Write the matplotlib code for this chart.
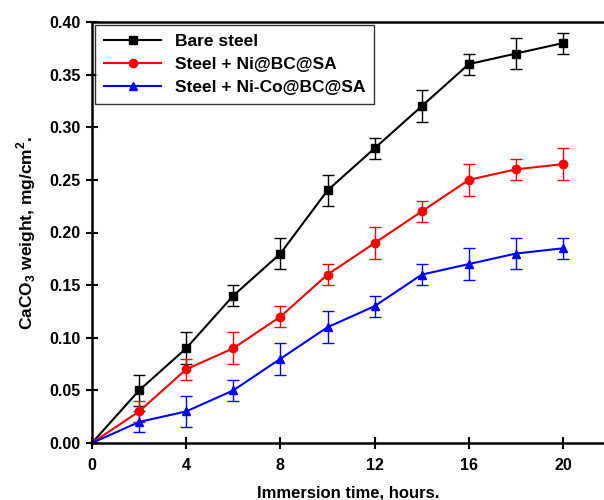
import matplotlib
matplotlib.use('Agg')
import matplotlib.pyplot as plt

plt.rcParams['font.family'] = ['Liberation Sans', 'DejaVu Sans']
plt.rcParams['font.weight'] = 'bold'
plt.rcParams['mathtext.fontset'] = 'custom'
plt.rcParams['mathtext.rm'] = 'Liberation Sans:bold'
plt.rcParams['mathtext.bf'] = 'Liberation Sans:bold'

hours = [0, 2, 4, 6, 8, 10, 12, 14, 16, 18, 20]
bare = [0, 0.05, 0.09, 0.14, 0.18, 0.24, 0.28, 0.32, 0.36, 0.37, 0.38]
bare_err = [0, 0.015, 0.015, 0.01, 0.015, 0.015, 0.01, 0.015, 0.01, 0.015, 0.01]
ni = [0, 0.03, 0.07, 0.09, 0.12, 0.16, 0.19, 0.22, 0.25, 0.26, 0.265]
ni_err = [0, 0.01, 0.01, 0.015, 0.01, 0.01, 0.015, 0.01, 0.015, 0.01, 0.015]
nico = [0, 0.02, 0.03, 0.05, 0.08, 0.11, 0.13, 0.16, 0.17, 0.18, 0.185]
nico_err = [0, 0.01, 0.015, 0.01, 0.015, 0.015, 0.01, 0.01, 0.015, 0.015, 0.01]
names = ['Bare steel', 'Steel + Ni@BC@SA', 'Steel + Ni-Co@BC@SA']

fig = plt.figure(figsize=(6.04, 5.0), dpi=100)
ax = fig.add_axes([92 / 604, 1 - 443 / 500, 1 - 92 / 604, (443 - 22) / 500])

series = [(bare, bare_err, 'black', 's'), (ni, ni_err, 'red', 'o'), (nico, nico_err, 'blue', '^')]
handles = []
for (y, e, c, m), name in zip(series, names):
    cont = ax.errorbar(hours, y, yerr=e, color=c, marker=m, markersize=6, lw=1.5,
                       capsize=4, elinewidth=1, capthick=1, label=name)
    handles.append(cont[0])

ax.set_xlim(0, 21.74)
ax.set_ylim(0, 0.40)
ax.set_xticks([0, 4, 8, 12, 16, 20])
ax.set_yticks([0, 0.05, 0.1, 0.15, 0.2, 0.25, 0.3, 0.35, 0.4])
ax.yaxis.set_major_formatter(matplotlib.ticker.FormatStrFormatter('%.2f'))
ax.tick_params(direction='inout', length=9, width=1.5, labelsize=11.5)
ax.tick_params(axis='x', pad=6)
ax.spines['right'].set_visible(False)
for s in ['left', 'bottom', 'top']:
    ax.spines[s].set_linewidth(1.8)

ax.set_xlabel('Immersion time, hours.', fontsize=12, fontweight='bold', labelpad=9)
ax.set_ylabel(r'CaCO$_\mathbf{3}$ weight, mg/cm$^\mathbf{2}$.', fontsize=12.5, fontweight='bold', labelpad=8)

leg = ax.legend(handles=handles, labels=names, loc='upper left', fontsize=12.5, fancybox=False,
                edgecolor='black', handlelength=3.3, borderaxespad=0.2, labelspacing=0.45,
                borderpad=0.5)
leg.get_frame().set_linewidth(1)

fig.savefig('out.png', dpi=100)
